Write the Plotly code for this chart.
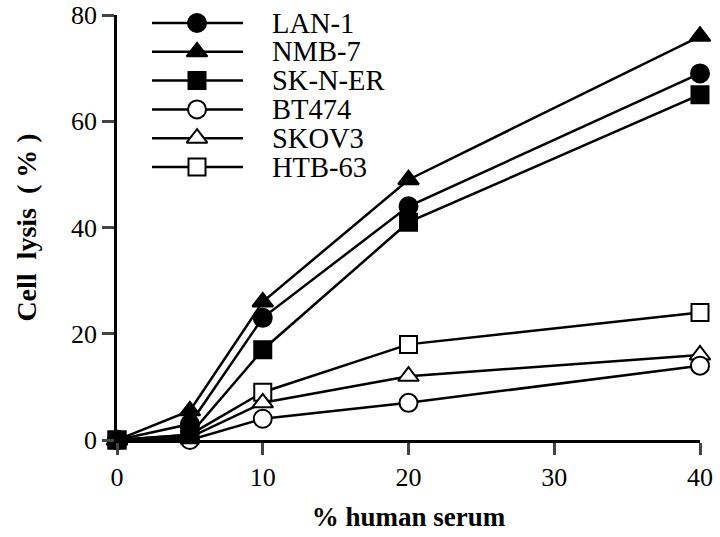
import plotly.graph_objects as go

serum = [0, 5, 10, 20, 40]
series_names = ["LAN-1", "NMB-7", "SK-N-ER", "BT474", "SKOV3", "HTB-63"]
lan1 = [0, 3, 23, 44, 69]
nmb7 = [0, 5.5, 26, 49, 76]
skner = [0, 1, 17, 41, 65]
bt474 = [0, 0, 4, 7, 14]
skov3 = [0, 0.5, 7, 12, 16]
htb63 = [0, 1, 9, 18, 24]

x_ticks = [0, 10, 20, 30, 40]
y_ticks = [0, 20, 40, 60, 80]

values = {"LAN-1": lan1, "NMB-7": nmb7, "SK-N-ER": skner,
          "BT474": bt474, "SKOV3": skov3, "HTB-63": htb63}
styles = {
    "LAN-1": ("circle", "black"),
    "NMB-7": ("triangle-up", "black"),
    "SK-N-ER": ("square", "black"),
    "BT474": ("circle", "white"),
    "SKOV3": ("triangle-up", "white"),
    "HTB-63": ("square", "white"),
}
sizes = {"circle": 18, "triangle-up": 18, "square": 17}
draw_order = ["HTB-63", "SKOV3", "BT474", "LAN-1", "NMB-7", "SK-N-ER"]

FONT = "Liberation Serif"
fig = go.Figure()

for name in draw_order:
    sym, fill = styles[name]
    fig.add_trace(go.Scatter(
        x=serum, y=values[name], mode="lines+markers", name=name,
        line=dict(color="black", width=2.5),
        marker=dict(symbol=sym, size=sizes[sym], color=fill,
                    line=dict(color="black", width=2)),
        cliponaxis=False, showlegend=False,
    ))

W, H = 720, 537
L, R, T, B = 117, 700, 15, 440
# custom legend on an overlay axis measured in page pixels
row_y0, row_dy = 23, 28.8
for i, name in enumerate(series_names):
    sym, fill = styles[name]
    yy = row_y0 + i * row_dy
    fig.add_trace(go.Scatter(
        x=[152, 243], y=[yy, yy], mode="lines", xaxis="x2", yaxis="y2",
        line=dict(color="black", width=2.5), showlegend=False, hoverinfo="skip",
        cliponaxis=False,
    ))
    fig.add_trace(go.Scatter(
        x=[197], y=[yy], mode="markers", xaxis="x2", yaxis="y2",
        marker=dict(symbol=sym, size=sizes[sym], color=fill,
                    line=dict(color="black", width=2)),
        showlegend=False, hoverinfo="skip", cliponaxis=False,
    ))
    fig.add_annotation(x=270, y=yy, xref="x2", yref="y2", text=name,
                       showarrow=False, xanchor="left", yanchor="middle",
                       font=dict(family=FONT, size=28.5, color="black"))

fig.update_layout(
    width=W, height=H,
    margin=dict(l=L, r=W - R, t=T, b=H - B, autoexpand=False),
    paper_bgcolor="white", plot_bgcolor="white",
    font=dict(family=FONT, color="black"),
    hovermode=False,
    xaxis=dict(range=[0, 40], tickvals=x_ticks, ticks="outside", ticklen=12,
               tickwidth=2.5, showline=True, linewidth=2.5, linecolor="black",
               showgrid=False, zeroline=False, tickfont=dict(size=26),
               automargin=False,
               title=dict(text="<b>% human serum</b>", font=dict(size=27),
                          standoff=17)),
    yaxis=dict(range=[0, 80], tickvals=y_ticks, ticks="outside", ticklen=12,
               tickwidth=2.5, showline=True, linewidth=2.5, linecolor="black",
               showgrid=False, zeroline=False, tickfont=dict(size=26),
               automargin=False,
               title=dict(text="<b>Cell&nbsp;&nbsp;lysis&nbsp;&nbsp;(&nbsp;%&nbsp;)</b>",
                          font=dict(size=28), standoff=27)),
    xaxis2=dict(range=[L, R], overlaying="x", visible=False, fixedrange=True),
    yaxis2=dict(range=[B, T], overlaying="y", visible=False, fixedrange=True),
)

fig.write_html("out.html", config={"displayModeBar": False},
               post_script="document.body.style.margin='0';")
